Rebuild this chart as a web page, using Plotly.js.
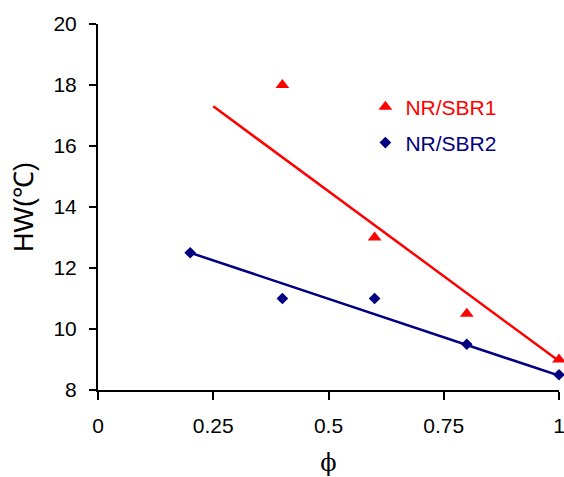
<!DOCTYPE html>
<html>
<head>
<meta charset="utf-8">
<script src="https://cdn.plot.ly/plotly-3.0.1.min.js"></script>
<style>
  html, body { margin: 0; padding: 0; background: #fff; }
  #chart { width: 564px; height: 477px; }
</style>
</head>
<body>
<div id="chart"></div>
<script>
// Volume fraction of NR in the blend
const phiSBR1 = [0.4, 0.6, 0.8, 1.0];
const hwSBR1 = [18, 13, 10.5, 9];
const phiSBR2 = [0.2, 0.4, 0.6, 0.8, 1.0];
const hwSBR2 = [12.5, 11, 11, 9.5, 8.5];

// Trend line end points
const trendPhi1 = [0.25, 1.0];
const trendHw1 = [17.3, 8.95];
const trendPhi2 = [0.2, 1.0];
const trendHw2 = [12.5, 8.47];

const xTicks = [0, 0.25, 0.5, 0.75, 1];
const xTickText = ['0', '0.25', '0.5', '0.75', '1'];
const yTicks = [8, 10, 12, 14, 16, 18, 20];

const red = '#FF0000';
const navy = '#000080';
const font = 'Liberation Sans, Arial, sans-serif';

const traces = [
  {
    x: trendPhi1, y: trendHw1, mode: 'lines', showlegend: false,
    line: { color: red, width: 2.5 }, hoverinfo: 'skip', cliponaxis: false
  },
  {
    x: trendPhi2, y: trendHw2, mode: 'lines', showlegend: false,
    line: { color: navy, width: 2.5 }, hoverinfo: 'skip', cliponaxis: false
  },
  {
    x: phiSBR1, y: hwSBR1, mode: 'markers', name: 'NR/SBR1',
    marker: { symbol: 'triangle-up', size: 12, color: red },
    cliponaxis: false, legend: 'legend'
  },
  {
    x: phiSBR2, y: hwSBR2, mode: 'markers', name: 'NR/SBR2',
    marker: { symbol: 'diamond', size: 9, color: navy },
    cliponaxis: false, legend: 'legend2'
  }
];

const legendBase = {
  xanchor: 'left', yanchor: 'middle', x: 0.58,
  bgcolor: 'rgba(0,0,0,0)', borderwidth: 0, itemwidth: 30
};

const layout = {
  width: 564, height: 477,
  margin: { l: 98, r: 5, t: 24, b: 87 },
  paper_bgcolor: '#fff', plot_bgcolor: '#fff',
  font: { family: font, size: 21, color: '#000' },
  xaxis: {
    range: [0, 1], tickvals: xTicks, ticktext: xTickText,
    ticks: 'outside', ticklen: 8, tickwidth: 2, tickcolor: '#000',
    showline: true, linecolor: '#000', linewidth: 2,
    showgrid: false, zeroline: false, ticklabeloverflow: 'allow',
    ticklabelstandoff: 8,
    tickfont: { family: font, size: 21, color: '#000' },
    title: { text: 'ϕ', font: { family: 'DejaVu Serif, Liberation Serif, serif', size: 24, color: '#000' }, standoff: 20 }
  },
  yaxis: {
    range: [8, 20], tickvals: yTicks,
    ticks: 'outside', ticklen: 7, tickwidth: 2, tickcolor: '#000',
    showline: true, linecolor: '#000', linewidth: 2,
    showgrid: false, zeroline: false,
    ticklabelstandoff: 8,
    tickfont: { family: font, size: 21, color: '#000' },
    title: { text: 'HW(℃)', font: { family: font, size: 27, color: '#000' }, standoff: 12 }
  },
  legend: Object.assign({}, legendBase, { y: 0.773, font: { family: font, size: 21, color: red } }),
  legend2: Object.assign({}, legendBase, { y: 0.675, font: { family: font, size: 21, color: navy } })
};

Plotly.newPlot('chart', traces, layout, { staticPlot: true, displayModeBar: false });
</script>
</body>
</html>
